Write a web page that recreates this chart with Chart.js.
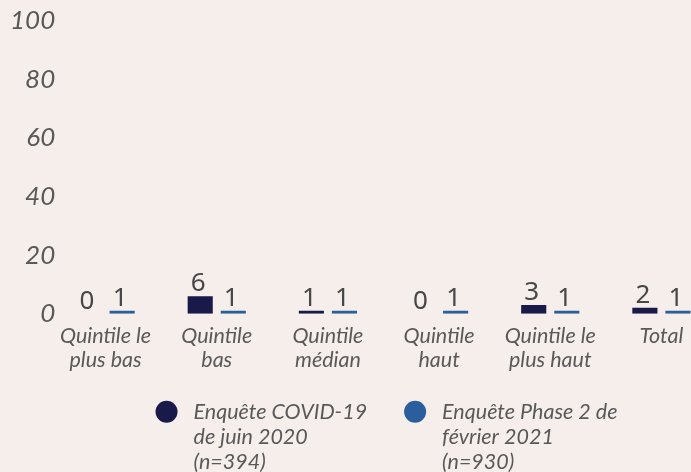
<!DOCTYPE html>
<html>
<head>
<meta charset="utf-8">
<script src="https://cdn.jsdelivr.net/npm/chart.js@4"></script>
<style>
	html, body { margin: 0; padding: 0; background: #f5eeeb; overflow: hidden; width: 691px; height: 472px; }
	#wrap { position: absolute; left: 0; top: 0; width: 720px; height: 472px; }
</style>
</head>
<body>
<div id="wrap"><canvas id="chart"></canvas></div>
<script>
const categories = [
	["Quintile le", "plus bas"],
	["Quintile", "bas"],
	["Quintile", "médian"],
	["Quintile", "haut"],
	["Quintile le", "plus haut"],
	["Total"],
];
const june2020 = [0, 6, 1, 0, 3, 2];
const feb2021 = [1, 1, 1, 1, 1, 1];
const seriesNames = [
	["Enquête COVID-19", "de juin 2020", "(n=394)"],
	["Enquête Phase 2 de", "février 2021", "(n=930)"],
];
const yTicks = [0, 20, 40, 60, 80, 100];

const navy = "#1a1a4a";
const blue = "#2b5e9c";
const grey = "#595959";

// numbers above each bar
const valueLabels = {
	id: "valueLabels",
	afterDatasetsDraw(chart) {
		const ctx = chart.ctx;
		ctx.save();
		ctx.font = '400 26px "Noto Sans"';
		ctx.fillStyle = "#474747";
		ctx.textAlign = "center";
		ctx.textBaseline = "alphabetic";
		chart.data.datasets.forEach((ds, i) => {
			chart.getDatasetMeta(i).data.forEach((bar, j) => {
				ctx.fillText(ds.data[j], bar.x - 2, bar.y - 5);
			});
		});
		ctx.restore();
	},
};

// legend with round markers and multi-line labels, centred under the plot
const dotLegend = {
	id: "dotLegend",
	afterDraw(chart) {
		const ctx = chart.ctx;
		const area = chart.chartArea;
		const r = 11;
		const gap = 16;
		const itemGap = 37;
		const lineH = 25;
		ctx.save();
		ctx.font = "italic 21.5px Lato";
		const items = chart.data.datasets.map((ds) => {
			const tw = Math.max(...ds.label.map((t) => ctx.measureText(t).width));
			return { ds: ds, w: 2 * r + gap + tw };
		});
		const total = items.reduce((s, it) => s + it.w, 0) + itemGap * (items.length - 1);
		let x = (area.left + area.right) / 2 - total / 2 + 3;
		const y = area.bottom + 98;
		items.forEach((it) => {
			ctx.fillStyle = it.ds.backgroundColor;
			ctx.beginPath();
			ctx.arc(x + r, y, r, 0, Math.PI * 2);
			ctx.fill();
			ctx.fillStyle = grey;
			ctx.textAlign = "left";
			ctx.textBaseline = "middle";
			it.ds.label.forEach((t, k) => {
				ctx.fillText(t, x + 2 * r + gap, y + k * lineH);
			});
			x += it.w + itemGap;
		});
		ctx.restore();
	},
};

new Chart(document.getElementById("chart"), {
	type: "bar",
	data: {
		labels: categories,
		datasets: [
			{
				label: seriesNames[0],
				data: june2020,
				backgroundColor: navy,
				categoryPercentage: 0.595,
				barPercentage: 0.76,
			},
			{
				label: seriesNames[1],
				data: feb2021,
				backgroundColor: blue,
				categoryPercentage: 0.595,
				barPercentage: 0.76,
			},
		],
	},
	options: {
		responsive: true,
		maintainAspectRatio: false,
		animation: false,
		layout: {
			padding: { top: 21, right: 3, left: 0, bottom: 89 },
		},
		scales: {
			x: {
				grid: { display: false, drawTicks: false },
				border: { display: false },
				ticks: {
					color: grey,
					padding: 11,
					maxRotation: 0,
					autoSkip: false,
					font: { family: "Lato", style: "italic", size: 21.5, lineHeight: 1.1 },
				},
			},
			y: {
				min: 0,
				max: 100,
				afterFit: (scale) => {
					scale.width = 50;
				},
				afterBuildTicks: (scale) => {
					scale.ticks = yTicks.map((v) => ({ value: v }));
				},
				grid: { display: false, drawTicks: false },
				border: { display: false },
				ticks: {
					// mirrored so the labels are not clipped to the narrow axis box
					mirror: true,
					crossAlign: "far",
					color: grey,
					padding: -40,
					font: { family: "Lato", style: "italic", size: 26 },
				},
			},
		},
		plugins: {
			legend: { display: false },
			tooltip: { enabled: false },
		},
	},
	plugins: [valueLabels, dotLegend],
});
</script>
</body>
</html>
